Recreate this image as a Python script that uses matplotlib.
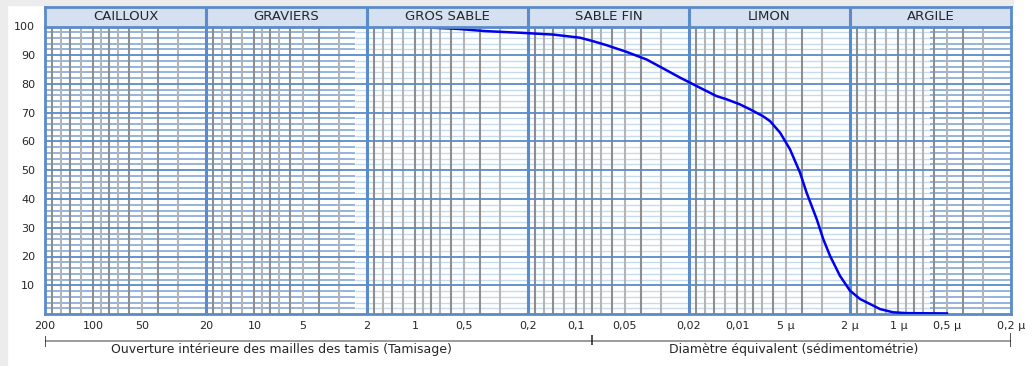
import numpy as np
import matplotlib
matplotlib.use("Agg")
import matplotlib.pyplot as plt
from matplotlib.patches import Rectangle

# courbe granulometrique : diametre (mm) / tamisat cumule (%)
diametres = [1.0, 0.74, 0.555, 0.37, 0.219, 0.14, 0.095, 0.079, 0.065, 0.049,
             0.0366, 0.0289, 0.0227, 0.0171, 0.0135, 0.0117, 0.00964, 0.00836,
             0.00694, 0.00628, 0.00544, 0.00472, 0.00409, 0.00372, 0.00322,
             0.00293, 0.00266, 0.00231, 0.0020, 0.00173, 0.0013, 0.00108,
             0.00089, 0.0005]
passants = [100, 99.5, 99.2, 98.4, 97.8, 97.2, 96.1, 94.9, 93.5, 91.2,
            88.5, 85.4, 82.2, 78.7, 75.8, 74.7, 72.9, 71.2,
            68.8, 67.1, 63.1, 57.3, 49.2, 42.2, 33.0,
            26.0, 20.2, 13.3, 8.1, 5.2, 1.7, 0.6,
            0.3, 0.2]

classes = ["CAILLOUX", "GRAVIERS", "GROS SABLE", "SABLE FIN", "LIMON", "ARGILE"]
bornes = [200, 20, 2, 0.2, 0.02, 0.002, 0.0002]

xticks = [200, 100, 50, 20, 10, 5, 2, 1, 0.5, 0.2, 0.1, 0.05, 0.02, 0.01,
          0.005, 0.002, 0.001, 0.0005, 0.0002]
xlabels = ["200", "100", "50", "20", "10", "5", "2", "1", "0,5", "0,2", "0,1",
           "0,05", "0,02", "0,01", "5 µ", "2 µ", "1 µ", "0,5 µ", "0,2 µ"]
yticks = [10, 20, 30, 40, 50, 60, 70, 80, 90, 100]

limite_tamisage = 0.08
titre_tamis = "Ouverture intérieure des mailles des tamis (Tamisage)"
titre_sedim = "Diamètre équivalent (sédimentométrie)"

BLEU = "#5b8bc9"
TEXTE = "#262626"
W, H = 1036, 366
left, right = 45 / W, 1011 / W

fig = plt.figure(figsize=(W / 100, H / 100), dpi=100)
fig.patches.append(Rectangle((0, 0), 7 / W, 1, transform=fig.transFigure,
                             color="#ececec", zorder=-5))
fig.patches.append(Rectangle((0, 361 / H), 1013 / W, 5 / H, transform=fig.transFigure,
                             color="#ececec", zorder=-5))

ax = fig.add_axes([left, 52 / H, right - left, 287.5 / H])
ax.set_xscale("log")
ax.set_xlim(200, 0.0002)
ax.set_ylim(0, 100)

# quadrillage vertical (log, subdivisions 1.2..1.8), gris alterne
mantisses = [1, 1.2, 1.4, 1.6, 1.8, 3, 4, 5, 6, 7, 8, 9]
for k in range(-4, 3):
    for j, m in enumerate(mantisses):
        v = m * 10.0 ** k
        if 0.0002 < v < 200:
            ax.axvline(v, color="#8e8e8e" if j % 2 == 0 else "#b4b4b4",
                       lw=1.5, zorder=2)

# quadrillage horizontal tous les 2 %
x_a, x_b = 2.374, 6.37e-4
for y in range(2, 100, 2):
    if y % 10 == 0:
        ax.axhline(y, color=BLEU, lw=1.3, zorder=3)
    else:
        ax.hlines(y, 200, x_a, color="#76a0d4", lw=1.1, zorder=1)
        ax.hlines(y, x_a, x_b, color="#c6dcee", lw=1.0, zorder=1)
        ax.hlines(y, x_b, 0.0002, color="#76a0d4", lw=1.1, zorder=1)

for b in bornes[1:-1]:
    ax.axvline(b, color=BLEU, lw=2.2, zorder=4)

for s in ax.spines.values():
    s.set_color(BLEU)
    s.set_linewidth(2)

ax.plot(diametres, passants, color="#0000ee", lw=1.8, zorder=5)

ax.set_xticks(xticks)
ax.set_xticklabels(xlabels)
ax.minorticks_off()
ax.set_yticks(yticks)
ax.tick_params(axis="both", length=0, labelsize=8, labelcolor=TEXTE)
ax.tick_params(axis="x", pad=5)
ax.tick_params(axis="y", pad=7)

# bandeau des classes
hd = fig.add_axes([left, 339.5 / H, right - left, 19.5 / H])
hd.set_xscale("log")
hd.set_xlim(200, 0.0002)
hd.set_ylim(0, 1)
hd.set_facecolor("#d5e0f0")
hd.set_xticks([])
hd.set_yticks([])
hd.minorticks_off()
for s in hd.spines.values():
    s.set_color(BLEU)
    s.set_linewidth(2)
for i, nom in enumerate(classes):
    if i > 0:
        hd.axvline(bornes[i], color=BLEU, lw=2.2)
    hd.text(np.sqrt(bornes[i] * bornes[i + 1]), 0.5, nom, ha="center", va="center",
            fontsize=9.5, color=TEXTE)

# legende des methodes
an = fig.add_axes([left, 6 / H, right - left, 30 / H])
an.set_xscale("log")
an.set_xlim(200, 0.0002)
an.set_ylim(360, 330)
an.axis("off")
an.hlines(341, 200, 0.0002, color="#8a8a8a", lw=1.2)
an.vlines([200, limite_tamisage, 0.0002], [336, 335, 333], [347, 345, 347],
          color="#222222", lw=1.1)
an.text(6.8, 350, titre_tamis, ha="center", va="center", fontsize=9, color=TEXTE)
an.text(0.0045, 350, titre_sedim, ha="center", va="center", fontsize=9, color=TEXTE)

fig.savefig("out.png", dpi=100)
